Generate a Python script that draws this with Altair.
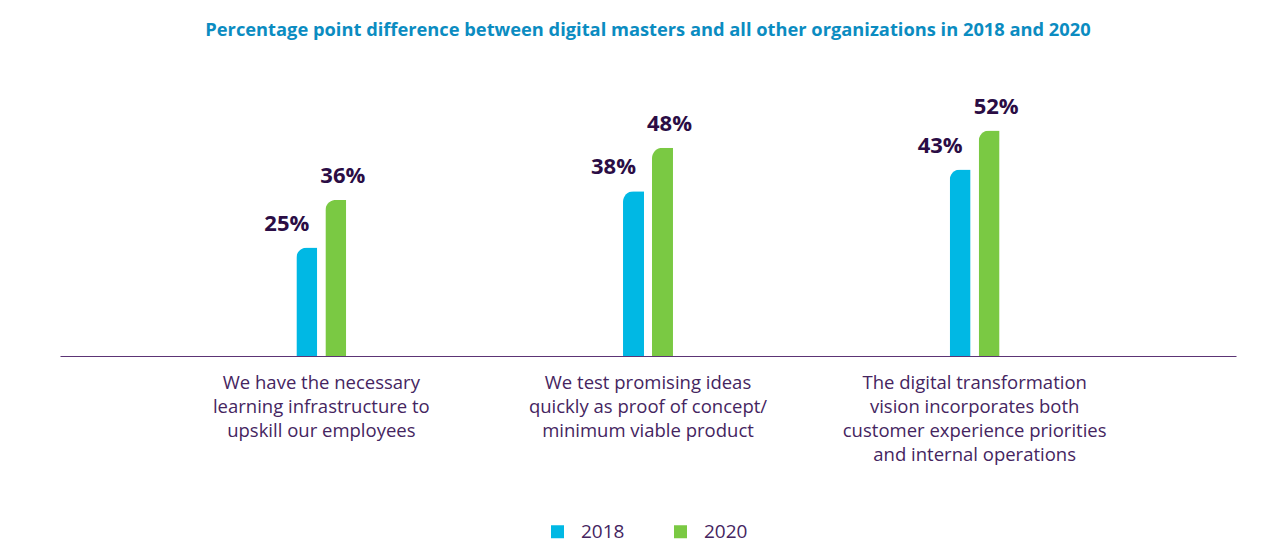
import altair as alt
import pandas as pd

categories = [
    "We have the necessary|learning infrastructure to|upskill our employees",
    "We test promising ideas|quickly as proof of concept/|minimum viable product",
    "The digital transformation|vision incorporates both|customer experience priorities|and internal operations",
]
years = ["2018", "2020"]
values_2018 = [25, 38, 43]
values_2020 = [36, 48, 52]

rows = []
for c, a, b in zip(categories, values_2018, values_2020):
    rows.append({"cat": c, "year": "2018", "value": a, "label": f"{a}%"})
    rows.append({"cat": c, "year": "2020", "value": b, "label": f"{b}%"})
df = pd.DataFrame(rows)

FONT = "Open Sans"
TEXT_DARK = "#2b0d45"
LABEL_PURPLE = "#45255f"

xenc = alt.X("cat:N", sort=categories,
             scale=alt.Scale(paddingInner=0.847, paddingOuter=0.7235),
             axis=alt.Axis(title=None, labelExpr="split(datum.label, '|')",
                           labelAngle=0, labelFont=FONT, labelFontSize=18.5,
                           labelColor=LABEL_PURPLE, labelLineHeight=24,
                           labelPadding=17, ticks=False, domainColor="#5c3475",
                           domainWidth=1.2, labelBaseline="top", labelLimit=400))
xoff = alt.XOffset("year:N", scale=alt.Scale(paddingInner=0.276, paddingOuter=0))
yenc = alt.Y("value:Q", scale=alt.Scale(domain=[0, 59.5]), axis=None)

bars = alt.Chart(df).mark_bar(cornerRadiusTopLeft=11).encode(
    x=xenc, xOffset=xoff, y=yenc,
    color=alt.Color("year:N", scale=alt.Scale(domain=years, range=["#00b8e4", "#7ac943"]),
                    legend=alt.Legend(title=None, orient="none", direction="horizontal",
                                      legendX=488, legendY=424, symbolType="square",
                                      symbolSize=169, symbolStrokeWidth=0,
                                      labelFont=FONT, labelFontSize=19,
                                      labelColor=LABEL_PURPLE, labelOffset=14,
                                      columnPadding=46)),
)

def label_layer(year, dx):
    return alt.Chart(df).transform_filter(alt.datum.year == year).mark_text(
        font=FONT, fontSize=22, fontWeight="bold", color=TEXT_DARK,
        baseline="bottom", dy=-12, dx=dx,
    ).encode(x=xenc, xOffset=xoff, y=yenc, text="label:N")

chart = alt.layer(bars, label_layer("2018", -20), label_layer("2020", 7)).properties(
    width=1176, height=258,
    title=alt.TitleParams(
        "Percentage point difference between digital masters and all other organizations in 2018 and 2020",
        font=FONT, fontSize=18.3, fontWeight="bold", color="#0b8cc1", offset=55, anchor="middle"),
    autosize=alt.AutoSizeParams(type="none"),
    padding={"left": 52, "top": 90, "right": 35, "bottom": 190},
).configure_view(stroke=None)

chart.save("out.html", embed_options={"renderer": "svg", "actions": False})
